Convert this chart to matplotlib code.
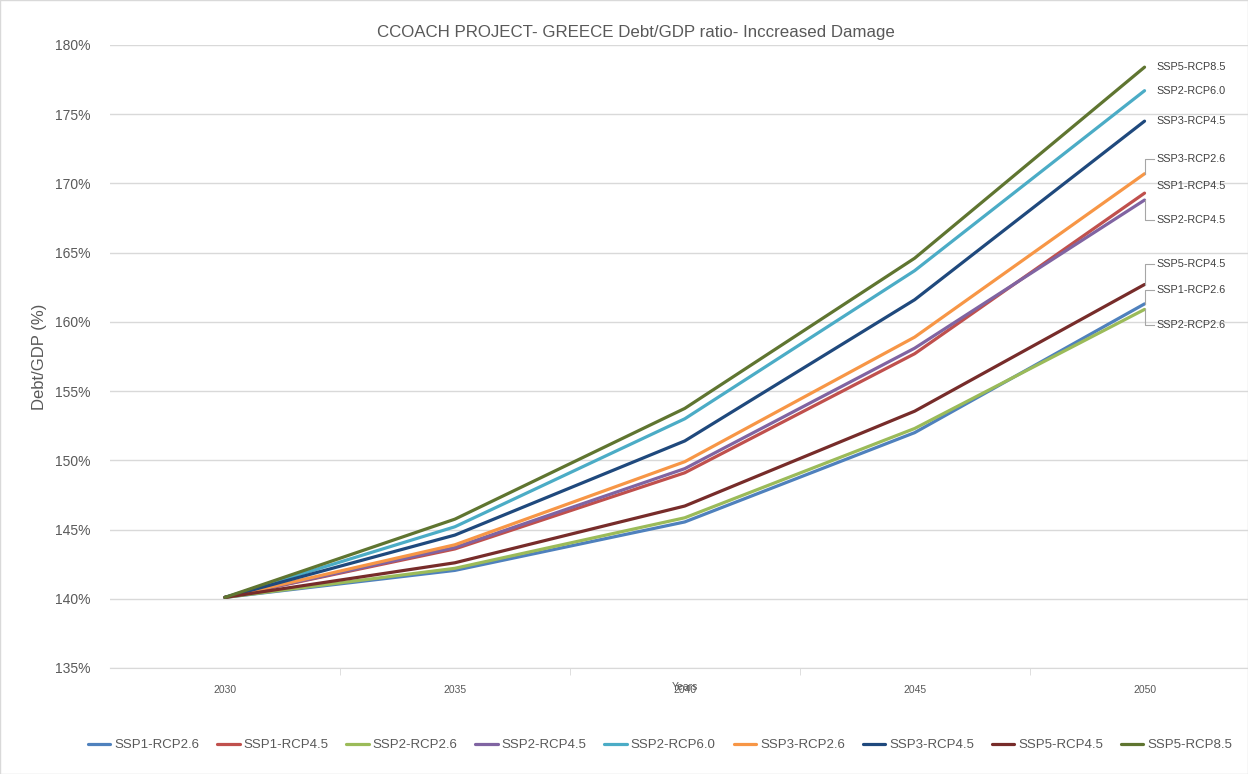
import matplotlib.pyplot as plt
from matplotlib.patches import Rectangle

plt.rcParams['font.family'] = ['Liberation Sans', 'DejaVu Sans']

# Datos
years = ['2030', '2035', '2040', '2045', '2050']
scenarios = ['SSP1-RCP2.6', 'SSP1-RCP4.5', 'SSP2-RCP2.6', 'SSP2-RCP4.5', 'SSP2-RCP6.0',
             'SSP3-RCP2.6', 'SSP3-RCP4.5', 'SSP5-RCP4.5', 'SSP5-RCP8.5']
ssp1_rcp26 = [140.1, 142.05, 145.55, 152.0, 161.3]
ssp1_rcp45 = [140.1, 143.6, 149.1, 157.7, 169.3]
ssp2_rcp26 = [140.1, 142.2, 145.85, 152.3, 160.9]
ssp2_rcp45 = [140.1, 143.7, 149.4, 158.1, 168.8]
ssp2_rcp60 = [140.1, 145.2, 153.0, 163.7, 176.7]
ssp3_rcp26 = [140.1, 143.9, 149.9, 158.9, 170.7]
ssp3_rcp45 = [140.1, 144.6, 151.4, 161.6, 174.5]
ssp5_rcp45 = [140.1, 142.6, 146.7, 153.55, 162.7]
ssp5_rcp85 = [140.1, 145.75, 153.75, 164.6, 178.4]
series = [ssp1_rcp26, ssp1_rcp45, ssp2_rcp26, ssp2_rcp45, ssp2_rcp60,
          ssp3_rcp26, ssp3_rcp45, ssp5_rcp45, ssp5_rcp85]
colors = ['#4F81BD', '#C0504D', '#9BBB59', '#8064A2', '#4BACC6',
          '#F79646', '#1F497D', '#772C2A', '#5F7530']

# desplazamiento vertical de las etiquetas (en puntos de %)
label_offsets = {'SSP5-RCP8.5': 0.0, 'SSP2-RCP6.0': 0.0, 'SSP3-RCP4.5': 0.0,
                 'SSP3-RCP2.6': 1.1, 'SSP1-RCP4.5': 0.5, 'SSP2-RCP4.5': -1.45,
                 'SSP5-RCP4.5': 1.5, 'SSP1-RCP2.6': 1.0, 'SSP2-RCP2.6': -1.1}
leader = {'SSP3-RCP2.6', 'SSP2-RCP4.5', 'SSP5-RCP4.5', 'SSP1-RCP2.6', 'SSP2-RCP2.6'}

fig = plt.figure(figsize=(12.48, 7.74), dpi=100)
ax = fig.add_axes([110 / 1248, 1 - 668 / 774, 1 - 110 / 1248, (668 - 45) / 774])

x = list(range(len(years)))
for name, vals, c in zip(scenarios, series, colors):
    ax.plot(x, vals, color=c, lw=2.3, label=name, solid_capstyle='round')

for name, vals in zip(scenarios, series):
    yl = vals[-1] + label_offsets[name]
    if name in leader:
        ax.plot([4, 4, 4.04], [vals[-1], yl, yl], color='#A6A6A6', lw=0.8)
    ax.text(4.05, yl, name, fontsize=7.8, color='#404040', va='center', ha='left')

ax.set_xlim(-0.5, 4.45)
ax.set_ylim(135, 180)
ax.set_xticks(x)
ax.set_xticklabels(years, fontsize=7.5, color='#595959')
ax.set_xticks([0.5, 1.5, 2.5, 3.5], minor=True)
ax.tick_params(axis='x', which='major', length=0, pad=12)
ax.tick_params(axis='x', which='minor', length=5, color='#D9D9D9')
ax.set_yticks(range(135, 181, 5))
ax.set_yticklabels([f'{v}%' for v in range(135, 181, 5)], fontsize=10, color='#595959')
ax.tick_params(axis='y', length=0, pad=14)
ax.grid(axis='y', color='#D9D9D9', lw=1)
ax.set_axisbelow(True)
for s in ['top', 'right', 'left']:
    ax.spines[s].set_visible(False)
ax.spines['bottom'].set_color('#D9D9D9')

ax.set_ylabel('Debt/GDP (%)', fontsize=12, color='#595959', labelpad=6)
# el título del eje se superpone con la etiqueta 2040, como en el original
ax.text(2, 133.6, 'Years', fontsize=7.5, color='#595959', ha='center', va='center')
fig.text(636 / 1248, 1 - 33 / 774, 'CCOACH PROJECT- GREECE Debt/GDP ratio- Inccreased Damage',
         fontsize=12.2, color='#595959', ha='center', va='center')

fig.legend(loc='center', bbox_to_anchor=(660 / 1248, 1 - 745 / 774), ncol=9, frameon=False,
           fontsize=9.5, labelcolor='#595959', handlelength=1.7, handletextpad=0.3,
           columnspacing=1.35)

fig.patches.append(Rectangle((0, 0), 1, 1, transform=fig.transFigure, fill=False,
                             edgecolor='#D9D9D9', lw=1))

plt.savefig('out.png', dpi=100)
